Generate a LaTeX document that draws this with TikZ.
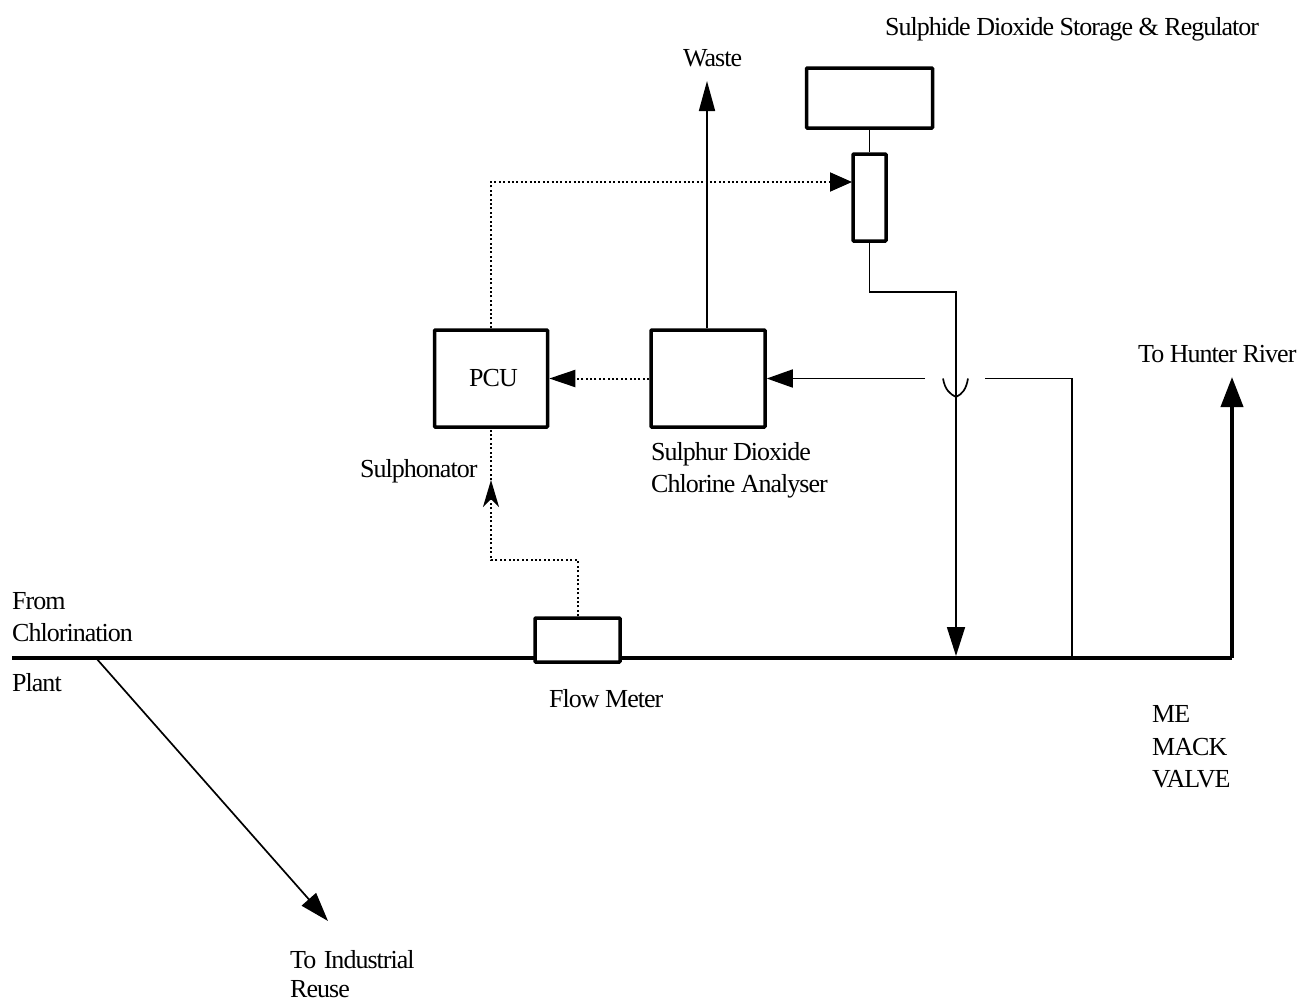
\documentclass[tikz,border=0pt]{standalone}
\usepackage{fontspec}
\setmainfont[LetterSpace=-3.8]{Liberation Serif}
\usetikzlibrary{positioning,arrows.meta}

\tikzset{
    unit/.style={draw, line width=3.5pt, rounded corners=0.8pt, inner sep=0pt, fill=white},
    lbl/.style={anchor=base west, inner sep=0pt, font=\fontsize{26}{30}\selectfont},
    pipe/.style={line width=1.7pt},
    main/.style={line width=4pt},
    signal/.style={line width=2pt, dash pattern=on 2pt off 2.4pt},
}

\begin{document}
\begin{tikzpicture}[x=1pt, y=-1pt]
    \useasboundingbox (0,0) rectangle (1298,1001);

    % junctions and free ends
    \coordinate (inlet) at (12,658);
    \coordinate (split) at (96,658);
    \coordinate (reuse) at (328,921);
    \coordinate (bend) at (1232,658);
    \coordinate (river) at (1232,377);
    \coordinate (drop) at (956,656);
    \coordinate (tap) at (1072,658);
    \coordinate (waste) at (707,81);
    \coordinate (tip) at (491,480);
    \coordinate (reginlet) at (852,182);

    % main line
    \draw[main] (inlet) -- (bend);
    \draw[main, -{Triangle[length=30pt,width=22pt]}] (bend) -- (river);
    \draw[pipe, -{Triangle[length=29pt,width=19pt]}] (split) -- (reuse);

    % units
    \node[unit, minimum width=126pt, minimum height=60pt] (storage) at (869.5,98) {};
    \node[unit, minimum width=33pt, minimum height=87pt] (regulator) at (869.5,197.5) {};
    \node[unit, minimum width=113pt, minimum height=97pt, font=\fontsize{26}{30}\selectfont] (pcu) at (491,378.5) {\hspace{5pt}\raisebox{-3pt}{PCU}};
    \node[unit, minimum width=114pt, minimum height=97pt] (analyser) at (708,378.5) {};
    \node[unit, minimum width=85pt, minimum height=44pt] (meter) at (577.5,640) {};

    % solid lines
    \draw[pipe] (storage.south) -- (regulator.north);
    \draw[pipe, -{Triangle[length=30pt,width=16pt]}] (analyser.north -| waste) -- (waste);
    \draw[pipe, -{Triangle[length=29pt,width=18pt]}] (regulator.south) |- (956,292) -- (drop);
    \draw[pipe] (tap) |- (985,378.5);
    \draw[pipe, -{Triangle[length=26pt,width=18pt]}] (925,378.5) -- (analyser.east);
    \draw[pipe] (943,378.5) .. controls (945,390) and (950,394) .. (956,397)
        .. controls (962,394) and (966,390) .. (968,378.5);

    % signal lines
    \draw[signal, -{Triangle[length=22pt,width=19pt]}] (pcu.north) |- (reginlet);
    \draw[signal, -{Triangle[length=26pt,width=17pt]}] (analyser.west) -- (pcu.east);
    \draw[signal, -{Stealth[length=27pt,width=16pt,inset=8pt]}] (meter.north) |- (491,560) -- (tip);
    \draw[signal] (tip) -- (pcu.south);

    % labels
    \node[lbl] (title) at (885,35) {Sulphide Dioxide Storage \& Regulator};
    \node[lbl] (wastelbl) at (683,66) {Waste};
    \node[lbl] (riverlbl) at (1138,362) {To Hunter River};
    \node[lbl] (an1) at (651,460) {Sulphur Dioxide};
    \node[lbl] (an2) at (651,492) {Chlorine Analyser};
    \node[lbl] (sulph) at (360,477) {Sulphonator};
    \node[lbl] (from) at (12,609) {From};
    \node[lbl] (chlor) at (12,641) {Chlorination};
    \node[lbl] (plant) at (12,691) {Plant};
    \node[lbl] (meterlbl) at (549,707) {Flow Meter};
    \node[lbl] (me) at (1152,722) {ME};
    \node[lbl] (mack) at (1152,755) {MACK};
    \node[lbl] (valve) at (1152,787) {VALVE};
    \node[lbl] (reuse1) at (290,968) {To\hspace{2pt} Industrial};
    \node[lbl] (reuse2) at (290,997) {Reuse};
\end{tikzpicture}
\end{document}
